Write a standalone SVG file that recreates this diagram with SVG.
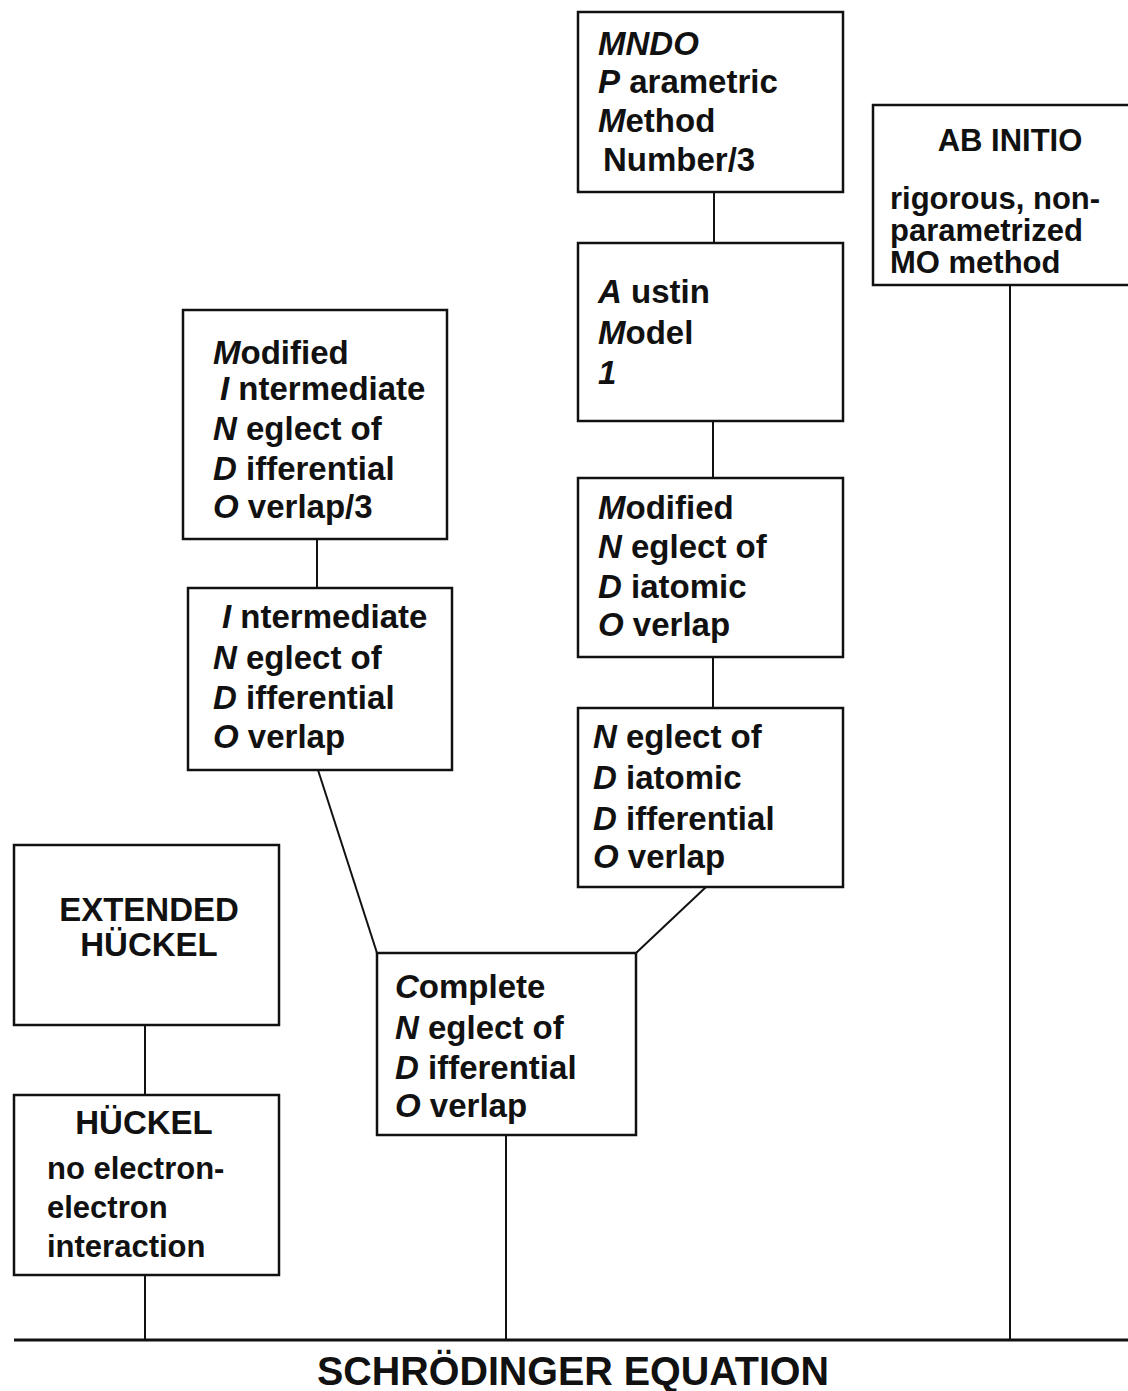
<svg xmlns="http://www.w3.org/2000/svg" width="1128" height="1391" viewBox="0 0 1128 1391">
  <style>
    .box { fill: #fff; stroke: #111; stroke-width: 2.5; }
    .t { font-family: "Liberation Sans", Arial, Helvetica, sans-serif; font-weight: bold; font-size: 33px; fill: #111; }
    .s { font-size: 31px; }
    .c { text-anchor: middle; }
    .i { font-style: italic; }
    .ln { stroke: #111; stroke-width: 2; fill: none; }
    .base { stroke: #111; stroke-width: 3; }
    .title { font-family: "Liberation Sans", Arial, Helvetica, sans-serif; font-weight: bold; font-size: 40px; fill: #111; text-anchor: middle; }
  </style>
  <rect width="1128" height="1391" fill="#fff"/>

  <!-- connectors -->
  <g id="connectors">
    <line class="ln" x1="714" y1="192" x2="714" y2="243"/>
    <line class="ln" x1="713" y1="421" x2="713" y2="478"/>
    <line class="ln" x1="713" y1="657" x2="713" y2="708"/>
    <line class="ln" x1="706" y1="887" x2="636" y2="953"/>
    <line class="ln" x1="317" y1="539" x2="317" y2="588"/>
    <line class="ln" x1="318" y1="770" x2="377" y2="953"/>
    <line class="ln" x1="145" y1="1025" x2="145" y2="1095"/>
    <line class="ln" x1="145" y1="1275" x2="145" y2="1340"/>
    <line class="ln" x1="506" y1="1135" x2="506" y2="1340"/>
    <line class="ln" x1="1010" y1="285" x2="1010" y2="1340"/>
  </g>

  <!-- MNDO parametric method 3 -->
  <g id="pm3">
    <rect class="box" x="578" y="12" width="265" height="180"/>
    <text class="t" x="598" y="55"><tspan class="i">MNDO</tspan></text>
    <text class="t" x="598" y="93"><tspan class="i">P</tspan> arametric</text>
    <text class="t" x="598" y="132"><tspan class="i">M</tspan>ethod</text>
    <text class="t" x="603" y="171">Number/3</text>
  </g>

  <!-- ab initio -->
  <g id="abinitio">
    <rect class="box" x="873" y="105" width="270" height="180"/>
    <text class="t s c" x="1010" y="151">AB INITIO</text>
    <text class="t s" x="890" y="209">rigorous, non-</text>
    <text class="t s" x="890" y="241">parametrized</text>
    <text class="t s" x="890" y="273">MO method</text>
  </g>

  <!-- Austin Model 1 -->
  <g id="am1">
    <rect class="box" x="578" y="243" width="265" height="178"/>
    <text class="t" x="598" y="303"><tspan class="i">A</tspan> ustin</text>
    <text class="t" x="598" y="344"><tspan class="i">M</tspan>odel</text>
    <text class="t" x="598" y="384"><tspan class="i">1</tspan></text>
  </g>

  <!-- MINDO/3 -->
  <g id="mindo3">
    <rect class="box" x="183" y="310" width="264" height="229"/>
    <text class="t" x="213" y="364"><tspan class="i">M</tspan>odified</text>
    <text class="t" x="220" y="400"><tspan class="i">I</tspan> ntermediate</text>
    <text class="t" x="213" y="440"><tspan class="i">N</tspan> eglect of</text>
    <text class="t" x="213" y="480"><tspan class="i">D</tspan> ifferential</text>
    <text class="t" x="213" y="518"><tspan class="i">O</tspan> verlap/3</text>
  </g>

  <!-- MNDO -->
  <g id="mndo">
    <rect class="box" x="578" y="478" width="265" height="179"/>
    <text class="t" x="598" y="519"><tspan class="i">M</tspan>odified</text>
    <text class="t" x="598" y="558"><tspan class="i">N</tspan> eglect of</text>
    <text class="t" x="598" y="598"><tspan class="i">D</tspan> iatomic</text>
    <text class="t" x="598" y="636"><tspan class="i">O</tspan> verlap</text>
  </g>

  <!-- INDO -->
  <g id="indo">
    <rect class="box" x="188" y="588" width="264" height="182"/>
    <text class="t" x="222" y="628"><tspan class="i">I</tspan> ntermediate</text>
    <text class="t" x="213" y="669"><tspan class="i">N</tspan> eglect of</text>
    <text class="t" x="213" y="709"><tspan class="i">D</tspan> ifferential</text>
    <text class="t" x="213" y="748"><tspan class="i">O</tspan> verlap</text>
  </g>

  <!-- NDDO -->
  <g id="nddo">
    <rect class="box" x="578" y="708" width="265" height="179"/>
    <text class="t" x="593" y="748"><tspan class="i">N</tspan> eglect of</text>
    <text class="t" x="593" y="789"><tspan class="i">D</tspan> iatomic</text>
    <text class="t" x="593" y="830"><tspan class="i">D</tspan> ifferential</text>
    <text class="t" x="593" y="868"><tspan class="i">O</tspan> verlap</text>
  </g>

  <!-- extended Hückel -->
  <g id="extended-huckel">
    <rect class="box" x="14" y="845" width="265" height="180"/>
    <text class="t c" x="149" y="921">EXTENDED</text>
    <text class="t c" x="149" y="956">HÜCKEL</text>
  </g>

  <!-- CNDO -->
  <g id="cndo">
    <rect class="box" x="377" y="953" width="259" height="182"/>
    <text class="t" x="395" y="998"><tspan class="i">C</tspan>omplete</text>
    <text class="t" x="395" y="1039"><tspan class="i">N</tspan> eglect of</text>
    <text class="t" x="395" y="1079"><tspan class="i">D</tspan> ifferential</text>
    <text class="t" x="395" y="1117"><tspan class="i">O</tspan> verlap</text>
  </g>

  <!-- Hückel -->
  <g id="huckel">
    <rect class="box" x="14" y="1095" width="265" height="180"/>
    <text class="t c" x="144" y="1134">HÜCKEL</text>
    <text class="t s" x="47" y="1179">no electron-</text>
    <text class="t s" x="47" y="1218">electron</text>
    <text class="t s" x="47" y="1257">interaction</text>
  </g>

  <!-- Schrödinger equation baseline -->
  <g id="schrodinger">
    <line class="base" x1="14" y1="1340" x2="1128" y2="1340"/>
    <text class="title" x="573" y="1385" textLength="512" lengthAdjust="spacingAndGlyphs">SCHRÖDINGER EQUATION</text>
  </g>
</svg>
